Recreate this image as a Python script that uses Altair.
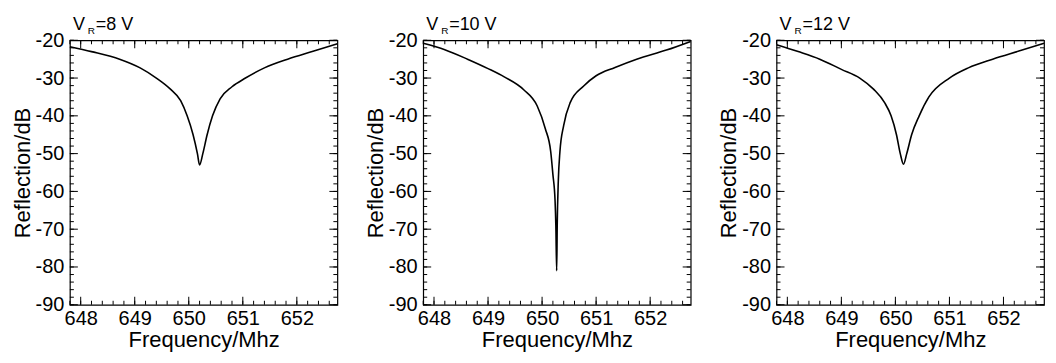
import altair as alt
import pandas as pd

# ---- data ----
freq_8 = [647.80, 648.20, 648.72, 649.10, 649.40, 649.65, 649.85, 649.97, 650.08, 650.16,
          650.20, 650.26, 650.34, 650.44, 650.58, 650.80, 651.05, 651.40, 651.83, 652.30, 652.75]
db_8 = [-21.7, -23.0, -25.0, -27.3, -30.0, -32.8, -36.0, -40.0, -45.0, -50.0,
        -53.0, -50.0, -45.0, -40.0, -35.5, -32.3, -30.0, -27.3, -25.0, -22.9, -20.9]

freq_10 = [647.80, 648.20, 648.62, 649.00, 649.30, 649.66, 649.91, 650.06, 650.16, 650.20,
           650.24, 650.255, 650.27, 650.28, 650.30, 650.33, 650.40, 650.52, 650.77, 651.00,
           651.35, 651.75, 652.30, 652.75]
db_10 = [-20.8, -22.5, -25.0, -27.5, -29.7, -33.1, -37.4, -43.4, -49.5, -55.5,
         -62.4, -69.0, -81.0, -69.0, -57.3, -49.5, -42.5, -36.5, -32.1, -29.4,
         -27.2, -25.0, -22.6, -20.3]

freq_12 = [647.80, 648.20, 648.60, 649.00, 649.34, 649.60, 649.80, 649.92, 650.02, 650.09,
           650.15, 650.21, 650.30, 650.44, 650.62, 651.00, 651.35, 651.80, 652.30, 652.75]
db_12 = [-21.2, -23.0, -25.0, -27.7, -30.0, -33.0, -36.5, -40.0, -45.0, -50.0,
         -52.8, -50.0, -45.0, -40.0, -35.0, -30.0, -27.3, -25.0, -22.8, -20.8]

vr_values = ["8", "10", "12"]

x_domain = [647.8, 652.75]
y_domain = [-90, -20]

major_x = [648, 649, 650, 651, 652]
minor_x = [647.8, 648.0, 648.2, 648.4, 648.6, 648.8, 649.0, 649.2, 649.4, 649.6, 649.8,
           650.0, 650.2, 650.4, 650.6, 650.8, 651.0, 651.2, 651.4, 651.6, 651.8,
           652.0, 652.2, 652.4, 652.6]
major_y = [-90, -80, -70, -60, -50, -40, -30, -20]
minor_y = [-90, -88, -86, -84, -82, -80, -78, -76, -74, -72, -70, -68, -66, -64, -62,
           -60, -58, -56, -54, -52, -50, -48, -46, -44, -42, -40, -38, -36, -34, -32,
           -30, -28, -26, -24, -22, -20]

FONT = "Liberation Sans"
LABEL_EXPR = "datum.value < 0 ? '-' + abs(datum.value) : '' + datum.value"
W, H = 268, 265
MAJ, MIN = 8, 4


def axis(values, title, label_pad):
    return alt.Axis(values=values, title=title, domain=False, grid=False, ticks=False,
                    tickSize=0, labelPadding=label_pad, labelFontSize=20,
                    labelExpr=LABEL_EXPR, labelFlush=False, labelColor="black",
                    labelFont=FONT, titleFontSize=22, titlePadding=1,
                    titleFont=FONT, titleFontWeight="normal", titleColor="black")


X_AXIS = axis(major_x, "Frequency/Mhz", 4)
Y_AXIS = axis(major_y, "Reflection/dB", 6)


def panel(freq, db, vr):
    df = pd.DataFrame({"freq": freq, "refl": db})
    xsc = alt.Scale(domain=x_domain, nice=False, zero=False)
    ysc = alt.Scale(domain=y_domain, nice=False, zero=False)

    line = alt.Chart(df).mark_line(color="black", strokeWidth=1.6,
                                   interpolate="monotone").encode(
        x=alt.X("freq:Q", scale=xsc, axis=X_AXIS),
        y=alt.Y("refl:Q", scale=ysc, axis=Y_AXIS),
    )

    layers = [line]
    for vals, size in ((major_x, MAJ), (minor_x, MIN)):
        src = alt.Chart(pd.DataFrame({"freq": vals})).mark_rule(color="black", strokeWidth=1)
        xe = alt.X("freq:Q", scale=xsc, axis=X_AXIS)
        layers.append(src.encode(x=xe, y=alt.value(H), y2=alt.value(H - size)))
        layers.append(src.encode(x=xe, y=alt.value(0), y2=alt.value(size)))
    for vals, size in ((major_y, MAJ), (minor_y, MIN)):
        src = alt.Chart(pd.DataFrame({"refl": vals})).mark_rule(color="black", strokeWidth=1)
        ye = alt.Y("refl:Q", scale=ysc, axis=Y_AXIS)
        layers.append(src.encode(y=ye, x=alt.value(0), x2=alt.value(size)))
        layers.append(src.encode(y=ye, x=alt.value(W), x2=alt.value(W - size)))

    tdf = pd.DataFrame({"v": ["V"], "r": ["R"], "eq": ["=" + vr + " V"]})
    tb = alt.Chart(tdf)
    layers.append(tb.mark_text(align="left", baseline="alphabetic", fontSize=18, font=FONT,
                               color="black").encode(text="v:N", x=alt.value(3),
                                                     y=alt.value(-10)))
    layers.append(tb.mark_text(align="left", baseline="alphabetic", fontSize=10, font=FONT,
                               color="black").encode(text="r:N", x=alt.value(18),
                                                     y=alt.value(-6)))
    layers.append(tb.mark_text(align="left", baseline="alphabetic", fontSize=18, font=FONT,
                               color="black").encode(text="eq:N", x=alt.value(26),
                                                     y=alt.value(-10)))

    return alt.layer(*layers).properties(width=W, height=H)


panels = [panel(freq_8, db_8, vr_values[0]),
          panel(freq_10, db_10, vr_values[1]),
          panel(freq_12, db_12, vr_values[2])]

chart = alt.hconcat(*panels, spacing=22).properties(
    padding={"left": 2, "top": 7, "right": 0, "bottom": 0}
).configure_view(stroke="black", strokeWidth=1.2)

chart.save("out.html", embed_options={"renderer": "svg", "actions": False})
